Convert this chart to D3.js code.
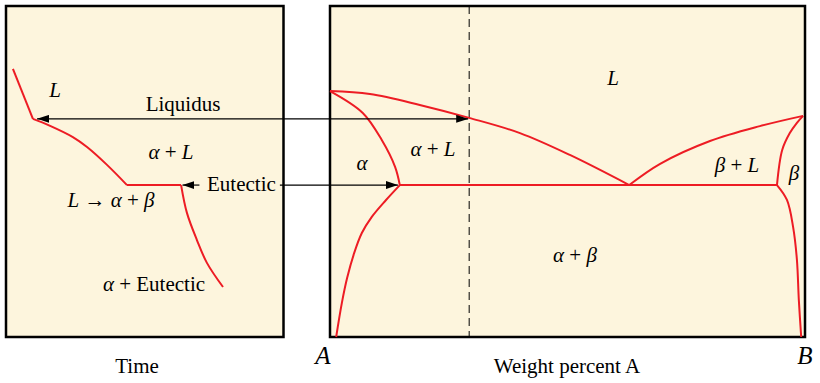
<!DOCTYPE html>
<html>
<head>
<meta charset="utf-8">
<script src="https://cdn.jsdelivr.net/npm/d3@7"></script>
<style>
  body { margin: 0; background: #fff; }
</style>
</head>
<body>
<div id="chart"></div>
<script>
// temperature is shared by both panels (arbitrary units, 0 at the bottom edge)
const tempDomain = [0, 1000];
const timeDomain = [0, 100];
const compDomain = [0, 100];

// cooling curve of the alloy (left panel)
const coolTime = [2.5, 9.7, 15.9, 24.1, 29.2, 36.4, 43.6, 63.1, 65.2, 68.8, 72.4, 78.2];
const coolTemp = [810, 659, 638, 604, 574, 520, 459, 459, 375, 293, 224, 151];

// phase diagram lines (right panel)
const liqAlphaC = [0, 8.4, 18.9, 29.3, 40, 50.5, 63];
const liqAlphaT = [743, 734, 701, 662, 616, 550, 459];
const solAlphaC = [0, 6.9, 10.9, 13.7, 14.7];
const solAlphaT = [743, 677, 595, 514, 459];
const solvAlphaC = [14.7, 11.8, 8.8, 6.7, 5.1, 3.6, 2.5, 1.3];
const solvAlphaT = [459, 414, 363, 314, 254, 178, 103, 0];
const liqBetaC = [63, 69.5, 80, 90.5, 99.6];
const liqBetaT = [459, 523, 592, 637, 668];
const solBetaC = [94.1, 95.2, 96.8, 98.3, 99.6];
const solBetaT = [459, 565, 616, 647, 668];
const solvBetaC = [94.1, 96.2, 97.5, 98.3, 98.7, 99.2];
const solvBetaT = [459, 414, 332, 233, 112, 0];

const eutecticT = 459;
const eutecticC = [14.7, 94.1];
const alloyC = 29.3;
const liquidusT = 659;

const red = '#ED1C24';

function zip(a, b) { return a.map((v, i) => [v, b[i]]); }

drawChart();

function drawChart() {
    const svg = d3.select('#chart').append('svg')
        .attr('width', 820).attr('height', 383);

    const y = d3.scaleLinear().domain(tempDomain).range([337, 6]);
    const xt = d3.scaleLinear().domain(timeDomain).range([6, 283.5]);
    const xc = d3.scaleLinear().domain(compDomain).range([330, 805]);

    const defs = svg.append('defs');
    defs.append('marker')
        .attr('id', 'head')
        .attr('viewBox', '0 0 12 8')
        .attr('refX', 12).attr('refY', 4)
        .attr('markerWidth', 12).attr('markerHeight', 8)
        .attr('markerUnits', 'userSpaceOnUse')
        .attr('orient', 'auto-start-reverse')
        .append('path').attr('d', 'M0,0 L12,4 L0,8 Z').attr('fill', '#000');

    // panels
    [xt, xc].forEach(x => {
        svg.append('rect')
            .attr('x', x(0)).attr('y', y(1000))
            .attr('width', x(100) - x(0)).attr('height', y(0) - y(1000))
            .attr('fill', '#FDF5DD').attr('stroke', '#000').attr('stroke-width', 2.5);
    });

    // alloy composition
    svg.append('line')
        .attr('x1', xc(alloyC)).attr('x2', xc(alloyC))
        .attr('y1', y(1000)).attr('y2', y(0))
        .attr('stroke', '#000').attr('stroke-width', 1)
        .attr('stroke-dasharray', '8,5');

    const lineT = d3.line().x(d => xt(d[0])).y(d => y(d[1]));
    const smoothT = d3.line().x(d => xt(d[0])).y(d => y(d[1])).curve(d3.curveCatmullRom);
    const lineC = d3.line().x(d => xc(d[0])).y(d => y(d[1])).curve(d3.curveCatmullRom);

    // cooling curve: straight cooling, primary freezing, eutectic arrest, solid cooling
    const cool = zip(coolTime, coolTemp);
    [[cool.slice(0, 2), lineT], [cool.slice(1, 7), smoothT],
     [cool.slice(6, 8), lineT], [cool.slice(7), smoothT]].forEach(s => {
        svg.append('path')
            .datum(s[0])
            .attr('d', s[1])
            .attr('fill', 'none').attr('stroke', red).attr('stroke-width', 2)
            .attr('stroke-linejoin', 'round');
    });

    const curves = [
        zip(liqAlphaC, liqAlphaT), zip(solAlphaC, solAlphaT), zip(solvAlphaC, solvAlphaT),
        zip(liqBetaC, liqBetaT), zip(solBetaC, solBetaT), zip(solvBetaC, solvBetaT)
    ];
    svg.selectAll('.phase')
        .data(curves).enter().append('path')
        .attr('class', 'phase')
        .attr('d', lineC)
        .attr('fill', 'none').attr('stroke', red).attr('stroke-width', 2);

    svg.append('line')
        .attr('x1', xc(eutecticC[0])).attr('x2', xc(eutecticC[1]))
        .attr('y1', y(eutecticT)).attr('y2', y(eutecticT))
        .attr('stroke', red).attr('stroke-width', 2);

    // arrows
    function arrow(x1, y1, x2, y2, both) {
        const a = svg.append('line')
            .attr('x1', x1).attr('y1', y1).attr('x2', x2).attr('y2', y2)
            .attr('stroke', '#000').attr('stroke-width', 1.2)
            .attr('marker-end', 'url(#head)');
        if (both) a.attr('marker-start', 'url(#head)');
    }
    arrow(xt(11.2), y(liquidusT), xc(alloyC) - 1, y(liquidusT), true);
    arrow(xt(69.7), y(eutecticT), xt(63.6), y(eutecticT), false);
    arrow(xt(98.7), y(eutecticT), xc(14.3), y(eutecticT), false);

    // labels: parts are [text, italic]
    function label(x, yy, parts, anchor, size) {
        const t = svg.append('text')
            .attr('x', x).attr('y', yy)
            .style('font-family', '"Liberation Serif"')
            .style('font-size', (size || 21) + 'px')
            .attr('fill', '#000')
            .attr('text-anchor', anchor || 'middle');
        parts.forEach(p => {
            t.append('tspan').style('font-style', p[1] ? 'italic' : 'normal').text(p[0]);
        });
    }

    const L = ['L', true], al = ['α', true], be = ['β', true], plus = [' + ', false];

    label(55, 97, [L]);
    label(183, 111, [['Liquidus', false]]);
    label(171, 159, [al, plus, L]);
    label(111, 207, [L, [' → ', false], al, plus, be]);
    label(207, 191, [['Eutectic', false]], 'start');
    label(154, 291, [al, [' + Eutectic', false]]);
    label(137, 373, [['Time', false]]);

    label(613, 85, [L]);
    label(433, 156, [al, plus, L]);
    label(362, 170, [al]);
    label(575, 262, [al, plus, be]);
    label(737, 172, [be, plus, L]);
    label(794, 180, [be]);

    label(567, 373, [['Weight percent A', false]]);
    label(323, 364, [['A', true]], 'middle', 25);
    label(805, 364, [['B', true]], 'middle', 25);
}
</script>
</body>
</html>
